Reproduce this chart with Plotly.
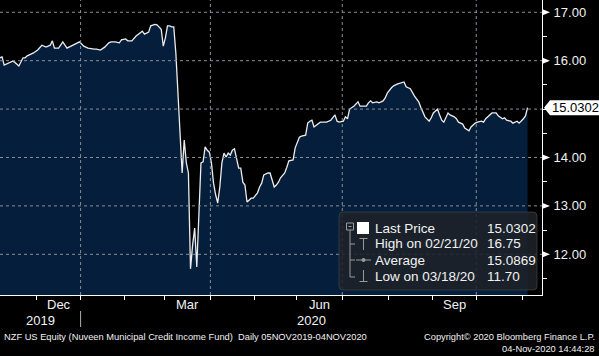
import pandas as pd
import plotly.graph_objects as go

# ---------------- data ----------------
holidays = ["2019-11-28", "2019-12-25", "2020-01-01", "2020-01-20", "2020-02-17",
            "2020-04-10", "2020-05-25", "2020-07-03", "2020-09-07"]
start_date = "2019-11-05"
end_date = "2020-11-04"

# trading-day number (0 = 05NOV2019) and closing price
day = [0, 1, 2, 4, 6, 7, 9, 11, 12, 13, 16, 18, 20, 22, 24, 25, 26, 28, 30, 32,
       34, 35, 37, 38, 40, 42, 45, 46, 48, 50, 52, 53, 55, 57, 58, 60, 61, 63, 65, 67,
       68, 69, 71, 72, 74, 75, 77, 78, 79, 80, 81, 82, 83, 84, 85, 86, 87, 88, 89, 90,
       91, 92, 93, 94, 95, 96, 97, 98, 99, 100, 101, 102, 103, 104, 105, 106, 107, 108, 109, 110,
       111, 112, 114, 115, 116, 117, 118, 120, 121, 123, 124, 125, 126, 128, 129, 131, 132, 133, 134, 136,
       137, 138, 140, 141, 143, 144, 146, 147, 148, 149, 150, 152, 153, 156, 158, 160, 161, 162, 164, 165,
       166, 167, 169, 171, 172, 173, 175, 176, 177, 178, 180, 181, 183, 184, 185, 187, 188, 190, 192, 193,
       194, 196, 198, 200, 201, 203, 205, 206, 207, 209, 210, 211, 212, 214, 215, 217, 218, 219, 221, 222,
       224, 225, 227, 228, 230, 231, 232, 234, 235, 237, 238, 240, 241, 242, 244, 245, 247, 248, 249, 250,
       251, 252]
price = [16.06, 16.08, 15.91, 15.95, 15.99, 15.97, 15.89, 16.06, 16.06, 16.10, 16.16, 16.22, 16.32, 16.28, 16.32, 16.41, 16.26, 16.26, 16.39, 16.26,
         16.30, 16.32, 16.37, 16.39, 16.30, 16.26, 16.24, 16.24, 16.22, 16.28, 16.37, 16.39, 16.39, 16.37, 16.43, 16.45, 16.41, 16.41, 16.51, 16.59,
         16.61, 16.55, 16.59, 16.72, 16.75, 16.74, 16.65, 16.30, 16.47, 16.72, 16.72, 16.70, 16.70, 16.16, 15.30, 14.40, 13.68, 14.36, 13.89, 13.68,
         11.70, 12.19, 12.54, 11.74, 12.71, 13.89, 13.91, 14.22, 14.15, 14.11, 13.89, 13.47, 13.23, 13.06, 13.39, 13.89, 14.09, 14.01, 14.09, 14.05,
         14.15, 14.18, 13.78, 13.78, 13.49, 13.43, 13.08, 13.16, 13.16, 13.27, 13.39, 13.47, 13.64, 13.68, 13.68, 13.39, 13.43, 13.49, 13.58, 13.68,
         13.80, 13.93, 13.95, 14.20, 14.42, 14.44, 14.46, 14.71, 14.75, 14.77, 14.63, 14.71, 14.73, 14.73, 14.77, 14.88, 14.75, 14.73, 14.75, 14.84,
         14.80, 15.00, 15.06, 15.15, 15.06, 15.06, 15.06, 15.13, 15.17, 15.13, 15.15, 15.13, 15.17, 15.23, 15.33, 15.44, 15.48, 15.52, 15.54, 15.56,
         15.46, 15.42, 15.27, 15.15, 15.04, 14.84, 14.75, 14.82, 14.92, 15.00, 14.88, 14.77, 14.73, 14.92, 14.88, 14.84, 14.80, 14.73, 14.69, 14.61,
         14.55, 14.63, 14.71, 14.73, 14.75, 14.73, 14.80, 14.88, 14.92, 14.92, 14.86, 14.80, 14.82, 14.77, 14.75, 14.71, 14.75, 14.71, 14.75, 14.80,
         14.86, 15.0302]

y_tick_values = [12, 13, 14, 16, 17]
last_price = 15.0302
month_labels = {"Dec": (2019, 12), "Mar": (2020, 3), "Jun": (2020, 6), "Sep": (2020, 9)}
grid_months = [(2020, 1), (2020, 4), (2020, 7), (2020, 10)]
year_labels = ["2019", "2020"]
legend_names = ["Last Price", "High on 02/21/20", "Average", "Low on 03/18/20"]
legend_values = ["15.0302", "16.75", "15.0869", "11.70"]
footer_left = "NZF US Equity (Nuveen Municipal Credit Income Fund)  Daily 05NOV2019-04NOV2020"
footer_right = ["Copyright\u00a9 2020 Bloomberg Finance L.P.", "04-Nov-2020 14:44:28"]

# ---------------- calendar ----------------
bdays = pd.bdate_range(start_date, end_date)
trading = bdays[~bdays.isin(pd.to_datetime(holidays))]
periods = trading.to_period("M")
first_idx = {}
for i, p in enumerate(periods):
    key = (p.year, p.month)
    if key not in first_idx:
        first_idx[key] = i
keys = list(first_idx.keys())
bounds = {k: first_idx[k] - 0.5 for k in keys[1:]}

X_MAX = 258.9
Y_MIN, Y_MAX = 11.159, 17.254

# ---------------- layout helpers ----------------
W, H = 599, 356
PW, PH = 542, 295
FONT = "Liberation Sans, Arial, sans-serif"


def fx(px):
    return px / PW


def fy(py):
    return 1 - py / PH


PPU = PH / (Y_MAX - Y_MIN)  # pixels per price unit

fig = go.Figure()
fig.add_trace(go.Scatter(
    x=day, y=price, mode="lines",
    line=dict(color="#ececec", width=1.3),
    fill="tozeroy", fillcolor="#041e3b",
    hoverinfo="skip", showlegend=False,
))

shapes = []
grid_style = dict(color="#8a8f96", width=1, dash="dot")
for v in range(12, 18):
    shapes.append(dict(type="line", xref="paper", yref="y", x0=0, x1=1, y0=v, y1=v,
                       line=grid_style, layer="above"))
for k in grid_months:
    b = bounds[k]
    shapes.append(dict(type="line", xref="x", yref="paper", x0=b, x1=b, y0=0, y1=1,
                       line=grid_style, layer="above"))

# y-axis triangle ticks
dy = 3.2 / PPU
for v in y_tick_values:
    shapes.append(dict(type="path", xref="paper", yref="y",
                       path=f"M 1 {v + dy} L {fx(PW + 8)} {v} L 1 {v - dy} Z",
                       fillcolor="white", line=dict(width=0), layer="above"))

# last price tag
h = 7.5 / PPU
shapes.append(dict(type="path", xref="paper", yref="y",
                   path=(f"M {fx(PW + 2)} {last_price} L {fx(PW + 8)} {last_price + h} "
                         f"L {fx(W + 2)} {last_price + h} L {fx(W + 2)} {last_price - h} "
                         f"L {fx(PW + 8)} {last_price - h} Z"),
                   fillcolor="white", line=dict(width=0), layer="above"))

# year separator
jb = bounds[(2020, 1)]
shapes.append(dict(type="line", xref="x", yref="paper", x0=jb, x1=jb,
                   y0=fy(311), y1=fy(327), line=dict(color="#b0b0b0", width=1)))

# legend box (rounded)
bx0, bx1, by0, by1, r = 339, 537, 212, 290, 4
path = (f"M {fx(bx0 + r)} {fy(by0)} L {fx(bx1 - r)} {fy(by0)} Q {fx(bx1)} {fy(by0)} {fx(bx1)} {fy(by0 + r)} "
        f"L {fx(bx1)} {fy(by1 - r)} Q {fx(bx1)} {fy(by1)} {fx(bx1 - r)} {fy(by1)} "
        f"L {fx(bx0 + r)} {fy(by1)} Q {fx(bx0)} {fy(by1)} {fx(bx0)} {fy(by1 - r)} "
        f"L {fx(bx0)} {fy(by0 + r)} Q {fx(bx0)} {fy(by0)} {fx(bx0 + r)} {fy(by0)} Z")
shapes.append(dict(type="path", xref="paper", yref="paper", path=path,
                   fillcolor="rgba(30,34,40,0.88)", line=dict(color="rgba(70,75,82,0.6)", width=1),
                   layer="above"))

gray = "#9a9a9a"


def seg(x0, y0, x1, y1, color=gray, w=1):
    shapes.append(dict(type="line", xref="paper", yref="paper", x0=fx(x0), y0=fy(y0),
                       x1=fx(x1), y1=fy(y1), line=dict(color=color, width=w), layer="above"))


shapes.append(dict(type="rect", xref="paper", yref="paper", x0=fx(346.5), x1=fx(353.5),
                   y0=fy(223), y1=fy(230), line=dict(color=gray, width=1), layer="above"))
seg(348.5, 226.5, 351.5, 226.5)
seg(350, 230, 350, 277)
for yy in (244, 260, 277):
    seg(350, yy, 355, yy)
shapes.append(dict(type="rect", xref="paper", yref="paper", x0=fx(357), x1=fx(369),
                   y0=fy(222), y1=fy(234), fillcolor="white", line=dict(width=0), layer="above"))
seg(359.5, 238.5, 367.5, 238.5)
seg(363.5, 238.5, 363.5, 250)
seg(356, 260, 371, 260)
shapes.append(dict(type="circle", xref="paper", yref="paper", x0=fx(361.5), x1=fx(365.5),
                   y0=fy(258), y1=fy(262), fillcolor=gray, line=dict(width=0), layer="above"))
seg(363.5, 270, 363.5, 281.5)
seg(359.5, 281.5, 367.5, 281.5)

annotations = []
txt = "#f2f2f2"
for i, (nm, val) in enumerate(zip(legend_names, legend_values)):
    yy = 228 + 16 * i
    annotations.append(dict(x=fx(373), y=fy(yy), xref="paper", yref="paper", text=nm,
                            showarrow=False, xanchor="left", yanchor="middle",
                            font=dict(family=FONT, size=13.5, color=txt)))
    annotations.append(dict(x=fx(485), y=fy(yy), xref="paper", yref="paper", text=val,
                            showarrow=False, xanchor="left", yanchor="middle",
                            font=dict(family=FONT, size=13.5, color=txt)))

annotations.append(dict(x=fx(550), y=last_price, xref="paper", yref="y", text=f"{last_price:.4f}",
                        showarrow=False, xanchor="left", yanchor="middle",
                        font=dict(family=FONT, size=13, color="black")))

for lbl, k in month_labels.items():
    i = keys.index(k)
    lo = bounds.get(k, 0)
    hi = bounds[keys[i + 1]]
    annotations.append(dict(x=(lo + hi) / 2, y=fy(304), xref="x", yref="paper", text=lbl,
                            showarrow=False, xanchor="center", yanchor="middle",
                            font=dict(family=FONT, size=13, color=txt)))
annotations.append(dict(x=(0 + jb) / 2, y=fy(320), xref="x", yref="paper", text=year_labels[0],
                        showarrow=False, xanchor="center", yanchor="middle",
                        font=dict(family=FONT, size=13, color=txt)))
annotations.append(dict(x=(jb + X_MAX) / 2, y=fy(320), xref="x", yref="paper", text=year_labels[1],
                        showarrow=False, xanchor="center", yanchor="middle",
                        font=dict(family=FONT, size=13, color=txt)))
annotations.append(dict(x=fx(2), y=fy(337), xref="paper", yref="paper", text=footer_left,
                        showarrow=False, xanchor="left", yanchor="middle",
                        font=dict(family=FONT, size=9.3, color=txt)))
for j, t in enumerate(footer_right):
    annotations.append(dict(x=fx(597), y=fy(337 + 12 * j), xref="paper", yref="paper", text=t,
                            showarrow=False, xanchor="right", yanchor="middle",
                            font=dict(family=FONT, size=9.3, color=txt)))

half_ticks = [11.5 + 0.5 * i for i in range(12)]
tick_text = [f"{v:.2f}" if (v in y_tick_values) else "" for v in half_ticks]

fig.update_layout(
    width=W, height=H,
    margin=dict(l=0, r=W - PW, t=0, b=H - PH, autoexpand=False),
    paper_bgcolor="black", plot_bgcolor="black",
    shapes=shapes, annotations=annotations,
    showlegend=False,
    xaxis=dict(range=[0, X_MAX], showgrid=False, zeroline=False,
               showline=True, linecolor="white", linewidth=1,
               tickmode="array", tickvals=[bounds[k] for k in keys[1:]],
               ticks="outside", ticklen=4, tickcolor="white", showticklabels=False,
               fixedrange=True),
    yaxis=dict(range=[Y_MIN, Y_MAX], side="right", showgrid=False, zeroline=False,
               showline=True, linecolor="white", linewidth=1,
               tickmode="array", tickvals=half_ticks, ticktext=tick_text,
               ticks="outside", ticklen=4, tickcolor="white",
               ticklabelstandoff=4,
               tickfont=dict(family=FONT, size=13, color=txt), fixedrange=True),
)

fig.write_html("out.html", config={"displayModeBar": False})
with open("out.html", "r", encoding="utf-8") as f:
    html = f.read()
html = html.replace("<head>", "<head><style>html,body{margin:0;padding:0;background:#000;overflow:hidden;}</style>", 1)
with open("out.html", "w", encoding="utf-8") as f:
    f.write(html)
